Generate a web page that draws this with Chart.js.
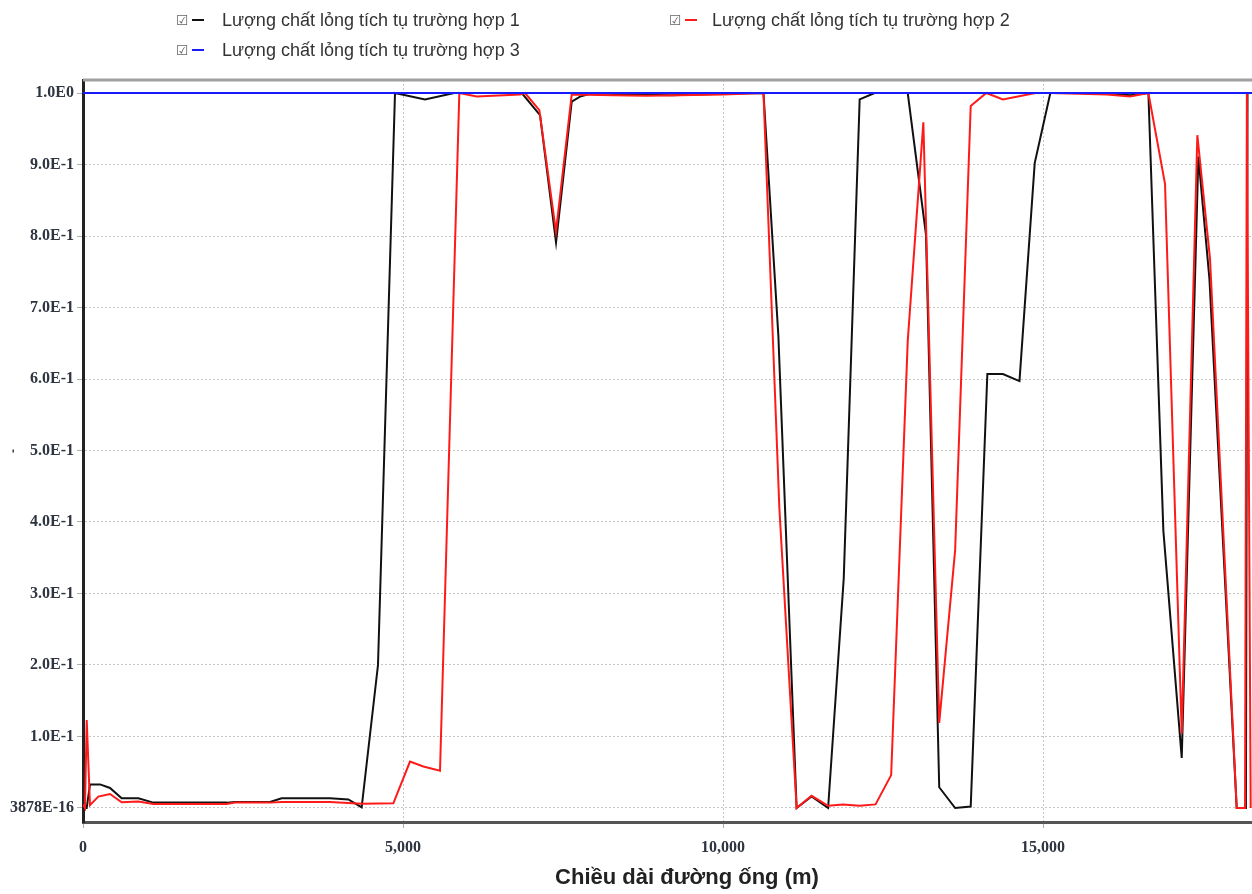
<!DOCTYPE html>
<html>
<head>
<meta charset="utf-8">
<script src="https://cdn.jsdelivr.net/npm/chart.js@4.4.1/dist/chart.umd.min.js"></script>
<style>
  html, body { margin: 0; padding: 0; background: #fff; }
  #wrap { position: relative; width: 1252px; height: 894px; overflow: hidden; }
  canvas { position: absolute; left: 0; top: 0; }
  .lg { position: absolute; font-family: "Liberation Sans", Arial, sans-serif; font-size: 18px; color: #333; white-space: nowrap; line-height: 20px; }
  .cb { position: absolute; font-family: "DejaVu Sans", sans-serif; font-size: 14px; color: #666; line-height: 14px; }
  .ln { position: absolute; height: 2px; width: 12px; }
  #xtitle { position: absolute; left: 0; width: 1374px; top: 864px; text-align: center; font-family: "Liberation Sans", Arial, sans-serif; font-weight: bold; font-size: 22px; line-height: 26px; color: #222; white-space: nowrap; }
</style>
</head>
<body>
<div id="wrap">
  <canvas id="c" width="1252" height="894"></canvas>
  <div id="legend"></div>
  <div id="xtitle"></div>
</div>
<script>
// ---- Data ----
const seriesNames = [
  "Lượng chất lỏng tích tụ trường hợp 1",
  "Lượng chất lỏng tích tụ trường hợp 2",
  "Lượng chất lỏng tích tụ trường hợp 3"
];
const seriesColors = ["#111111", "#ff1a1a", "#1a1aff"];

const distanceCase1 = [0, 58, 109, 266, 422, 604, 865, 1099, 2245, 2375, 2922, 3104, 3859, 4146, 4354, 4609, 4875, 5344, 5800, 6855, 7141, 7391, 7636, 7766, 7969, 8500, 9200, 10000, 10632, 10865, 11150, 11383, 11642, 11886, 12135, 12368, 12886, 13171, 13378, 13627, 13870, 14130, 14373, 14632, 14870, 15114, 16000, 16360, 16646, 16880, 17167, 17427, 17600, 18026, 18170, 18195, 18265];
const liquidCase1   = [0, 0, 0.033, 0.033, 0.028, 0.0135, 0.0135, 0.0075, 0.0075, 0.0085, 0.0085, 0.0135, 0.0135, 0.012, 0.001, 0.2, 1.0, 0.991, 1.0, 1.0, 0.969, 0.791, 0.988, 0.995, 1.0, 0.998, 0.997, 0.999, 1.0, 0.66, 0, 0.016, 0, 0.321, 0.991, 1.0, 1.0, 0.802, 0.029, 0, 0.002, 0.607, 0.607, 0.597, 0.902, 1.0, 1.0, 0.997, 1.0, 0.388, 0.07, 0.911, 0.74, 0, 0, 1.0, 1.0];

const distanceCase2 = [0, 31, 58, 109, 239, 422, 604, 865, 1099, 2245, 2375, 2922, 3104, 3859, 4354, 4849, 5109, 5318, 5578, 5880, 5995, 6151, 6830, 6906, 7130, 7390, 7636, 8300, 8800, 9300, 10000, 10632, 10880, 11150, 11383, 11642, 11876, 12135, 12383, 12627, 12886, 13130, 13378, 13627, 13870, 14114, 14373, 14881, 15114, 16000, 16360, 16646, 16906, 17167, 17411, 17609, 18026, 18156, 18185, 18245];
const liquidCase2   = [0.005, 0, 0.123, 0.004, 0.016, 0.0195, 0.008, 0.009, 0.0056, 0.0056, 0.0075, 0.0075, 0.0085, 0.0085, 0.006, 0.0065, 0.065, 0.058, 0.052, 1.0, 0.998, 0.995, 0.998, 1.0, 0.976, 0.806, 0.998, 0.997, 0.996, 0.997, 0.998, 1.0, 0.42, 0, 0.017, 0.003, 0.005, 0.003, 0.005, 0.046, 0.653, 0.959, 0.119, 0.361, 0.982, 1.0, 0.991, 1.0, 1.0, 0.998, 0.995, 1.0, 0.873, 0.104, 0.941, 0.768, 0, 0, 1.0, 0];

const distanceCase3 = [0, 18265];
const liquidCase3   = [1.0, 1.0];

const xTickValues = [0, 5000, 10000, 15000];
const yTickValues = [0, 0.1, 0.2, 0.3, 0.4, 0.5, 0.6, 0.7, 0.8, 0.9, 1.0];
const yTickLabels = ["3878E-16", "1.0E-1", "2.0E-1", "3.0E-1", "4.0E-1", "5.0E-1", "6.0E-1", "7.0E-1", "8.0E-1", "9.0E-1", "1.0E0"];
const xAxisTitle = "Chiều dài đường ống (m)";
const yAxisTitle = "-";

// ---- Build ----
function pts(xs, ys) { return xs.map((x, i) => ({ x: x, y: ys[i] })); }

const datasets = [
  { label: seriesNames[0], data: pts(distanceCase1, liquidCase1), borderColor: seriesColors[0], order: 2 },
  { label: seriesNames[1], data: pts(distanceCase2, liquidCase2), borderColor: seriesColors[1], order: 1 },
  { label: seriesNames[2], data: pts(distanceCase3, liquidCase3), borderColor: seriesColors[2], order: 0 }
].map(d => Object.assign(d, { borderWidth: 2, pointRadius: 0, tension: 0, fill: false }));

const topBorder = {
  id: 'topBorder',
  beforeDatasetsDraw(chart) {
    const a = chart.chartArea, c = chart.ctx;
    c.save();
    c.strokeStyle = '#a0a0a0';
    c.lineWidth = 3;
    c.beginPath();
    c.moveTo(a.left, a.top);
    c.lineTo(a.right, a.top);
    c.stroke();
    c.restore();
  }
};

const tickFont = { family: "'Liberation Serif', 'Times New Roman', serif", size: 16, weight: 'bold' };

new Chart(document.getElementById('c'), {
  type: 'line',
  data: { datasets: datasets },
  plugins: [topBorder],
  options: {
    responsive: false,
    animation: false,
    layout: { padding: { top: 80, right: 0, bottom: 0, left: 0 } },
    plugins: { legend: { display: false }, tooltip: { enabled: false } },
    scales: {
      x: {
        type: 'linear',
        min: 0,
        max: 18265,
        afterBuildTicks: s => { s.ticks = xTickValues.map(v => ({ value: v })); },
        afterFit: s => { s.height = 72; },
        ticks: {
          font: tickFont, color: '#2e3440', padding: 10, maxRotation: 0,
          callback: v => Number(v).toLocaleString('en-US')
        },
        grid: {
          color: c => (c.tick && c.tick.value === 0) ? 'rgba(0,0,0,0)' : '#c4c4c4',
          lineWidth: 1, tickLength: 6, tickColor: '#aaaaaa', tickBorderDash: []
        },
        border: { color: '#555555', width: 3, dash: [2, 2] }
      },
      y: {
        min: -0.0196,
        max: 1.0182,
        afterBuildTicks: s => { s.ticks = yTickValues.map(v => ({ value: v })); },
        afterFit: s => { s.width = 83; },
        ticks: {
          font: tickFont, color: '#2e3440', padding: 3,
          callback: (v, i) => yTickLabels[i]
        },
        grid: {
          color: '#c4c4c4', lineWidth: 1, tickLength: 6, tickColor: '#b0b0b0'
        },
        border: { color: '#222222', width: 3, dash: [2, 2] },
        title: {
          display: true, text: yAxisTitle, color: '#444',
          font: { family: "'Liberation Sans', Arial, sans-serif", size: 12, weight: 'bold' },
          padding: { top: 6, bottom: 0 }
        }
      }
    }
  }
});

document.getElementById('xtitle').textContent = xAxisTitle;

// ---- HTML legend (real text) ----
const legendPos = [
  { cb: [176, 13], ln: [192, 19], tx: [222, 10] },
  { cb: [669, 13], ln: [685, 19], tx: [712, 10] },
  { cb: [176, 43], ln: [192, 49], tx: [222, 40] }
];
const lg = document.getElementById('legend');
seriesNames.forEach((name, i) => {
  const p = legendPos[i];
  const cb = document.createElement('span');
  cb.className = 'cb'; cb.textContent = '☑';
  cb.style.left = p.cb[0] + 'px'; cb.style.top = p.cb[1] + 'px';
  const ln = document.createElement('span');
  ln.className = 'ln'; ln.style.background = seriesColors[i];
  ln.style.left = p.ln[0] + 'px'; ln.style.top = p.ln[1] + 'px';
  const tx = document.createElement('span');
  tx.className = 'lg'; tx.textContent = name;
  tx.style.left = p.tx[0] + 'px'; tx.style.top = p.tx[1] + 'px';
  lg.appendChild(cb); lg.appendChild(ln); lg.appendChild(tx);
});
</script>
</body>
</html>
